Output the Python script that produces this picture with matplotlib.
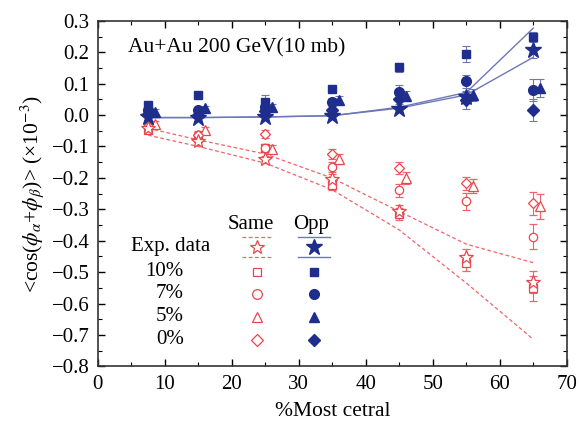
import matplotlib
matplotlib.use("Agg")
import matplotlib.pyplot as plt
import numpy as np

plt.rcParams['font.family'] = ['Liberation Serif', 'DejaVu Serif']
plt.rcParams['mathtext.fontset'] = 'stix'

# centrality bins (%)
cent = np.array([7.5, 15, 25, 35, 45, 55, 65])

# opposite-charge correlator (x1e-3), filled blue
opp_exp = [-0.005, -0.008, -0.005, -0.003, 0.019, 0.059, 0.208]
opp_exp_err = [0.01, 0.01, 0.01, 0.01, 0.01, 0.015, 0.025]
opp_10 = [0.032, 0.064, 0.043, 0.083, 0.152, 0.194, 0.250]
opp_10_err = [0.01, 0.008, 0.02, 0.01, 0.015, 0.025, 0.015]
opp_7 = [0.015, 0.015, 0.027, 0.043, 0.075, 0.107, 0.080]
opp_7_err = [0.01, 0.01, 0.012, 0.012, 0.02, 0.022, 0.035]
opp_5 = [0.011, 0.022, 0.025, 0.048, 0.061, 0.064, 0.086]
opp_5_err = [0.008, 0.008, 0.01, 0.012, 0.015, 0.02, 0.03]
opp_0 = [0.003, 0.0, 0.012, 0.017, 0.051, 0.048, 0.017]
opp_0_err = [0.01, 0.01, 0.012, 0.012, 0.015, 0.03, 0.035]

# same-charge correlator, open red
same_exp = [-0.042, -0.084, -0.141, -0.204, -0.307, -0.451, -0.530]
same_exp_err = [0.01, 0.01, 0.012, 0.015, 0.02, 0.025, 0.035]
same_10 = [-0.047, -0.074, -0.105, -0.222, -0.315, -0.472, -0.551]
same_10_err = [0.01, 0.012, 0.012, 0.015, 0.02, 0.025, 0.04]
same_7 = [-0.037, -0.065, -0.105, -0.166, -0.240, -0.275, -0.387]
same_7_err = [0.01, 0.01, 0.012, 0.015, 0.02, 0.027, 0.039]
same_5 = [-0.029, -0.048, -0.107, -0.140, -0.201, -0.225, -0.291]
same_5_err = [0.01, 0.01, 0.012, 0.015, 0.02, 0.022, 0.04]
same_0 = [-0.035, -0.062, -0.061, -0.124, -0.169, -0.217, -0.281]
same_0_err = [0.01, 0.01, 0.012, 0.015, 0.02, 0.02, 0.036]

# exp. data bands (upper / lower edges)
opp_band_hi = [-0.008, -0.008, -0.006, -0.002, 0.025, 0.072, 0.277]
opp_band_lo = [-0.008, -0.008, -0.006, -0.002, 0.022, 0.064, 0.184]
same_band_hi = [-0.042, -0.079, -0.124, -0.201, -0.307, -0.411, -0.470]
same_band_lo = [-0.064, -0.100, -0.153, -0.238, -0.366, -0.535, -0.714]

RED = '#e8474c'
RED_LINE = '#ee6468'
BLUE = '#1f2d8c'
BLUE_LINE = '#6e78b8'

fig = plt.figure(figsize=(5.79, 4.25), dpi=100)
ax = fig.add_axes([0.169, 0.138, 0.81, 0.813])

ax.plot(cent, same_band_hi, '--', color=RED_LINE, lw=0.9, dashes=(3, 2))
ax.plot(cent, same_band_lo, '--', color=RED_LINE, lw=0.9, dashes=(3, 2))
ax.plot(cent, opp_band_hi, '-', color=BLUE_LINE, lw=1.0)
ax.plot(cent, opp_band_lo, '-', color=BLUE_LINE, lw=1.0)

# (values, errors, marker, size, x shift)
same_sets = [
    (same_10, same_10_err, 's', 6, 0),
    (same_7, same_7_err, 'o', 6, 0),
    (same_5, same_5_err, '^', 7, 1),
    (same_0, same_0_err, 'D', 5.5, 0),
    (same_exp, same_exp_err, '*', 10, 0),
]
opp_sets = [
    (opp_10, opp_10_err, 's', 6, 0),
    (opp_7, opp_7_err, 'o', 7, 0),
    (opp_5, opp_5_err, '^', 7, 1),
    (opp_0, opp_0_err, 'D', 6, 0),
    (opp_exp, opp_exp_err, '*', 12, 0),
]

for vals, errs, m, ms, dx in same_sets:
    ax.errorbar(cent + dx, vals, yerr=errs, fmt=m, ms=ms, mfc='white',
                mec=RED, mew=0.9, ecolor=RED_LINE, elinewidth=0.8, capsize=3, capthick=0.8)
for vals, errs, m, ms, dx in opp_sets:
    ax.errorbar(cent + dx, vals, yerr=errs, fmt=m, ms=ms, mfc=BLUE,
                mec=BLUE, ecolor=BLUE_LINE, elinewidth=0.8, capsize=3, capthick=0.8)

ax.set_xlim(0, 70)
ax.set_ylim(-0.8, 0.3)
ax.set_xticks(np.arange(0, 71, 10))
ax.set_xticks(np.arange(0, 71, 5), minor=True)
ax.set_yticks(np.arange(-0.8, 0.31, 0.1))
ax.set_yticks(np.arange(-0.8, 0.31, 0.05), minor=True)
ax.tick_params(which='both', direction='in', top=True, right=True, labelsize=15, pad=6)
ax.tick_params(which='major', length=5, width=1.0)
ax.tick_params(which='minor', length=3, width=0.8)
for s in ax.spines.values():
    s.set_linewidth(1.2)
    s.set_color('#333333')

ax.set_xlabel('%Most cetral', fontsize=15.5, labelpad=6)
ax.set_ylabel(r'<cos($\phi_{\alpha}$+$\phi_{\beta}$)> (×10$^{-3}$)', fontsize=15.5, labelpad=4)

# hand-made legend table
tr = ax.transAxes
def ax_x(px):
    return (px - 98) / 469.0
def ax_y(py):
    return (366.5 - py) / 345.5

ax.text(ax_x(128), ax_y(48), 'Au+Au 200 GeV(10 mb)', transform=tr,
        fontsize=15.5, va='center', ha='left')

ax.text(ax_x(251), ax_y(225), 'Same', transform=tr, ha='center', va='center', fontsize=15)
ax.text(ax_x(311), ax_y(225), 'Opp', transform=tr, ha='center', va='center', fontsize=15)
ax.text(ax_x(210), ax_y(247), 'Exp. data', transform=tr, ha='right', va='center', fontsize=15)
for lab, py in [('10%', 271.7), ('7%', 294), ('5%', 316.7), ('0%', 340)]:
    ax.text(ax_x(184), ax_y(py), lab, transform=tr, ha='right', va='center', fontsize=15)

for py in (236.7, 257.3):
    ax.plot([ax_x(242), ax_x(272)], [ax_y(py)] * 2, '--', color=RED_LINE, lw=0.9,
            dashes=(3, 2), transform=tr)
    ax.plot([ax_x(298), ax_x(330)], [ax_y(py)] * 2, '-', color=BLUE_LINE, lw=1.0,
            transform=tr)
ax.plot(ax_x(257), ax_y(246.7), '*', ms=10, mfc='white', mec=RED, mew=0.9, transform=tr)
ax.plot(ax_x(314), ax_y(246.7), '*', ms=12, color=BLUE, transform=tr)
rows = [('s', 6, 271.7), ('o', 7, 294), ('^', 7, 316.7), ('D', 6, 340)]
for m, ms, py in rows:
    ax.plot(ax_x(257), ax_y(py), m, ms=ms, mfc='white', mec=RED, mew=0.9, transform=tr)
    ax.plot(ax_x(314), ax_y(py), m, ms=ms, color=BLUE, transform=tr)

fig.savefig('out.png', dpi=100)
